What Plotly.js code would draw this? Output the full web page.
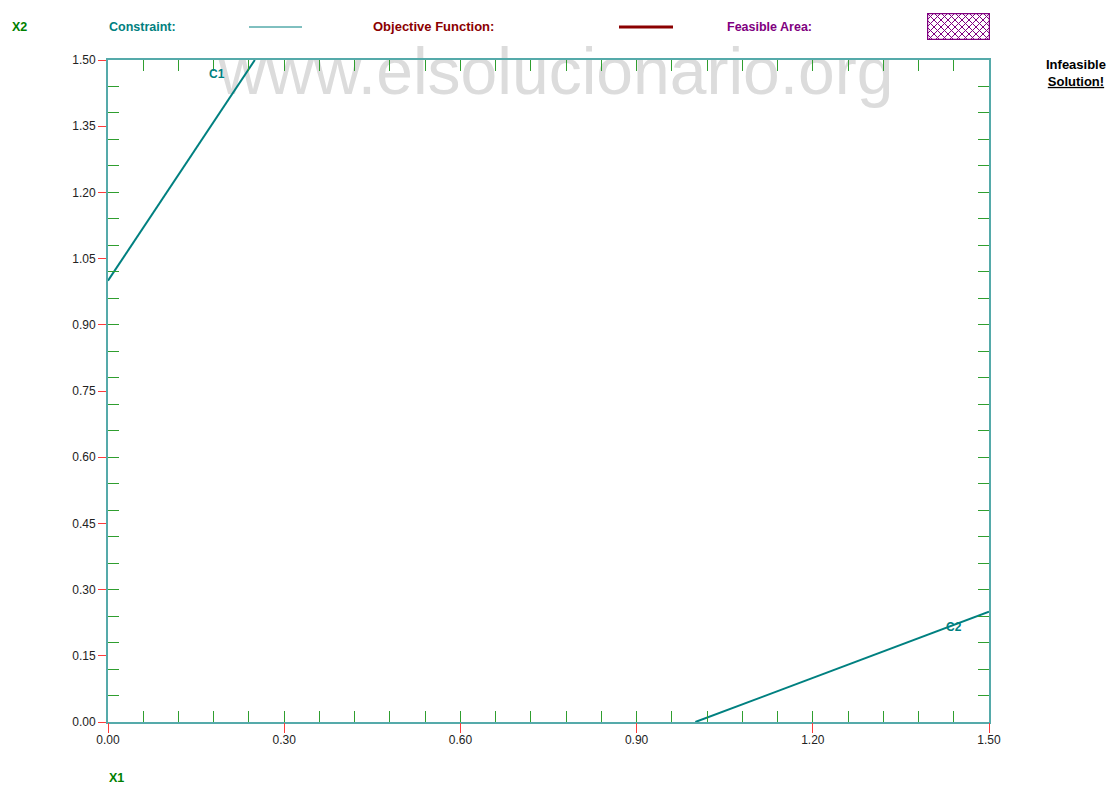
<!DOCTYPE html>
<html>
<head>
<meta charset="utf-8">
<script src="https://cdn.plot.ly/plotly-3.0.1.min.js"></script>
<style>html,body{margin:0;padding:0;background:#fff;}#chart{width:1107px;height:785px;}</style>
</head>
<body>
<div id="chart"></div>
<script>
// ---- data ----
const c1X = [0, 0.25];
const c1Y = [1.0, 1.5];
const c2X = [1.0, 1.5];
const c2Y = [0, 0.25];
const constraintLabels = ["C1", "C2"];
const labelX = [0.185, 1.44];
const labelY = [1.468, 0.216];
const xTicks = [0, 0.30, 0.60, 0.90, 1.20, 1.50];
const yTicks = [0, 0.15, 0.30, 0.45, 0.60, 0.75, 0.90, 1.05, 1.20, 1.35, 1.50];
const axisRange = [0, 1.5];
const minorStep = 0.06;
const watermarkText = 'www.elsolucionario.org';

// ---- layout helpers (pixel -> paper) ----
const L = 108, R = 989, T = 60, B = 722;
const W = 1107, H = 785;
const px = x => (x - L) / (R - L);
const py = y => (B - y) / (B - T);
const dx = x => px(x) * (axisRange[1] - axisRange[0]) + axisRange[0];
const dy = y => py(y) * (axisRange[1] - axisRange[0]) + axisRange[0];

const TEAL = '#008080', DRED = '#8b0000', PURP = '#800080', GREEN = '#008000';
const TICKRED = '#ff3b3b', TICKGREEN = '#2f9e2f', AXLINE = '#55aaaa';
const FONT = 'Liberation Sans, Arial, sans-serif';

const traces = [
  {x: [dx(556)], y: [dy(77)], mode: 'text', text: [watermarkText], textposition: 'middle center',
   textfont: {family: FONT, size: 66, color: '#dcdcdc'}, cliponaxis: false, hoverinfo: 'skip', showlegend: false},
  {x: c1X, y: c1Y, mode: 'lines', line: {color: TEAL, width: 2}, hoverinfo: 'skip', showlegend: false},
  {x: c2X, y: c2Y, mode: 'lines', line: {color: TEAL, width: 2}, hoverinfo: 'skip', showlegend: false},
  {x: axisRange, y: axisRange, xaxis: 'x2', yaxis: 'y2', mode: 'lines', line: {width: 0}, opacity: 0, hoverinfo: 'skip', showlegend: false},
  {x: axisRange, y: axisRange, xaxis: 'x3', yaxis: 'y2', mode: 'lines', line: {width: 0}, opacity: 0, hoverinfo: 'skip', showlegend: false}
];

const svg = "<svg xmlns='http://www.w3.org/2000/svg' width='63' height='27'>" +
  "<defs><pattern id='p' width='7' height='7' patternUnits='userSpaceOnUse'>" +
  "<path d='M0,0L7,7M7,0L0,7' stroke='#800080' stroke-width='1'/></pattern></defs>" +
  "<rect width='63' height='27' fill='white'/><rect width='63' height='27' fill='url(#p)'/>" +
  "<rect x='0.5' y='0.5' width='62' height='26' fill='none' stroke='#800080' stroke-width='1.5'/></svg>";

const annotations = [];
function txt(text, x, y, color, size) {
  annotations.push({
    text: text, xref: 'paper', yref: 'paper', x: px(x), y: py(y),
    xanchor: 'left', yanchor: 'middle', showarrow: false,
    font: {family: FONT, size: size || 12.5, color: color, weight: 'bold'}
  });
}
txt('X2', 10, 27, GREEN);
txt('Constraint:', 107, 27, TEAL);
txt('Objective Function:', 371, 27, DRED, 13);
txt('Feasible Area:', 725, 27, PURP);
txt('X1', 107, 778, GREEN);
annotations.push({
  text: 'Infeasible<br><u>Solution!</u>', xref: 'paper', yref: 'paper', x: px(1076), y: py(73),
  xanchor: 'center', yanchor: 'middle', align: 'center', showarrow: false,
  font: {family: FONT, size: 13, color: '#000', weight: 'bold'}
});
constraintLabels.forEach((t, i) => {
  annotations.push({
    text: t, x: labelX[i], y: labelY[i], xref: 'x', yref: 'y', showarrow: false,
    xanchor: 'center', yanchor: 'middle',
    font: {family: FONT, size: 12, color: TEAL, weight: 'bold'}
  });
});

const layout = {
  width: W, height: H,
  margin: {l: L, r: W - R, t: T, b: H - B},
  paper_bgcolor: '#fff', plot_bgcolor: '#fff',
  showlegend: false,
  font: {family: FONT, size: 12, color: '#222'},
  xaxis: {
    range: axisRange, tickvals: xTicks, tickformat: '.2f',
    ticks: 'outside', ticklen: 6, tickcolor: TICKRED, tickwidth: 1,
    showline: true, linecolor: AXLINE, linewidth: 2, mirror: true,
    showgrid: false, zeroline: false, fixedrange: true,
    tickfont: {family: FONT, size: 12, color: '#222'}
  },
  yaxis: {
    range: axisRange, tickvals: yTicks, tickformat: '.2f',
    ticks: 'outside', ticklen: 8, tickcolor: TICKRED, tickwidth: 1,
    showline: true, linecolor: AXLINE, linewidth: 2, mirror: true,
    showgrid: false, zeroline: false, fixedrange: true,
    tickfont: {family: FONT, size: 12, color: '#222'}
  },
  xaxis2: {
    overlaying: 'x', anchor: 'y2', range: axisRange, tick0: 0, dtick: minorStep,
    ticks: 'inside', ticklen: 11, tickcolor: TICKGREEN, tickwidth: 1,
    mirror: 'ticks', showline: false, showticklabels: false, showgrid: false, zeroline: false
  },
  xaxis3: {
    overlaying: 'x', anchor: 'y2', range: axisRange, tickvals: xTicks,
    ticks: 'outside', ticklen: 10, tickcolor: TICKRED, tickwidth: 1,
    showline: false, showticklabels: false, showgrid: false, zeroline: false
  },
  yaxis2: {
    overlaying: 'y', anchor: 'x2', range: axisRange, tick0: 0, dtick: minorStep,
    ticks: 'inside', ticklen: 11, tickcolor: TICKGREEN, tickwidth: 1,
    mirror: 'ticks', showline: false, showticklabels: false, showgrid: false, zeroline: false
  },
  shapes: [
    {type: 'line', xref: 'paper', yref: 'paper', x0: px(249), x1: px(302), y0: py(27), y1: py(27), line: {color: TEAL, width: 1}},
    {type: 'line', xref: 'paper', yref: 'paper', x0: px(619), x1: px(673), y0: py(27), y1: py(27), line: {color: DRED, width: 3}}
  ],
  images: [{
    source: 'data:image/svg+xml;charset=utf-8,' + encodeURIComponent(svg),
    xref: 'paper', yref: 'paper', x: px(927), y: py(13),
    sizex: 63 / (R - L), sizey: 27 / (B - T), xanchor: 'left', yanchor: 'top',
    sizing: 'stretch', layer: 'above'
  }],
  annotations: annotations
};

Plotly.newPlot('chart', traces, layout, {displayModeBar: false, staticPlot: true});
</script>
</body>
</html>
